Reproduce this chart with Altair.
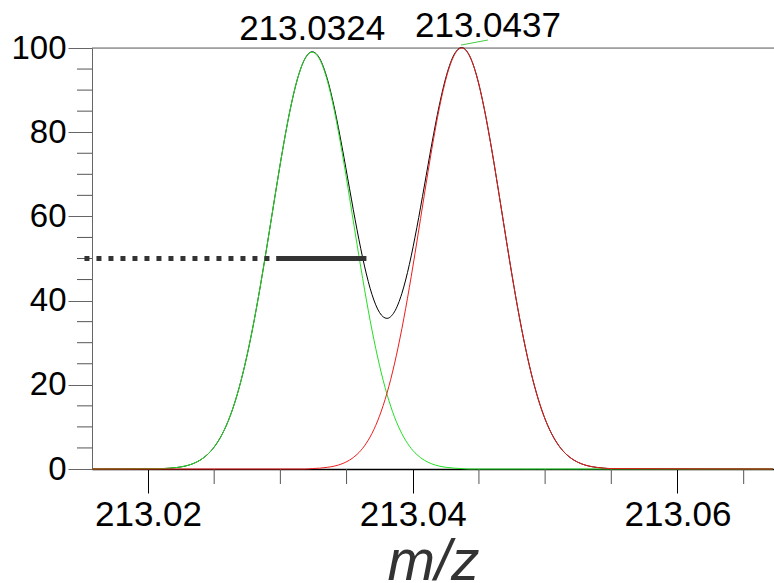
import altair as alt
import pandas as pd

# m/z grid
mz = [213.0158,
      213.0211, 213.021665, 213.02223, 213.022795, 213.02336, 213.023925, 213.02449,
      213.025055, 213.02562, 213.026185, 213.02675, 213.027315, 213.02788, 213.028445,
      213.02901, 213.029575, 213.03014, 213.030705, 213.03127, 213.031835, 213.0324,
      213.032965, 213.03353, 213.034095, 213.03466, 213.035225, 213.03579, 213.036355,
      213.03692, 213.037485, 213.03805, 213.038615, 213.03918, 213.039745, 213.04031,
      213.040875, 213.04144, 213.042005, 213.04257, 213.043135, 213.0437, 213.044265,
      213.04483, 213.045395, 213.04596, 213.046525, 213.04709, 213.047655, 213.04822,
      213.048785, 213.04935, 213.049915, 213.05048, 213.051045, 213.05161, 213.052175,
      213.05274, 213.053305, 213.05387, 213.054435, 213.055,
      213.0672]

green = [0,
         0.10, 0.20, 0.38, 0.69, 1.22, 2.08, 3.43, 5.45, 8.37, 12.41, 17.80, 24.66, 33.01,
         42.71, 53.38, 64.47, 75.23, 84.83, 92.43, 97.32, 99.0, 97.32, 92.43, 84.83, 75.23,
         64.47, 53.38, 42.71, 33.01, 24.66, 17.80, 12.41, 8.37, 5.45, 3.43, 2.08, 1.22, 0.69,
         0.38, 0.20, 0.10,
         0, 0, 0, 0, 0, 0, 0, 0, 0, 0, 0, 0, 0, 0, 0, 0, 0, 0, 0, 0,
         0]

red = [0,
       0, 0, 0, 0, 0, 0, 0, 0, 0, 0, 0, 0, 0, 0, 0, 0, 0, 0, 0, 0,
       0.10, 0.20, 0.39, 0.70, 1.24, 2.11, 3.46, 5.50, 8.45, 12.54, 17.98, 24.91, 33.35,
       43.14, 53.92, 65.12, 75.99, 85.69, 93.37, 98.30, 100.0, 98.30, 93.37, 85.69, 75.99,
       65.12, 53.92, 43.14, 33.35, 24.91, 17.98, 12.54, 8.45, 5.50, 3.46, 2.11, 1.24, 0.70,
       0.39, 0.20, 0.10,
       0]

total = [0,
         0.10, 0.20, 0.38, 0.69, 1.22, 2.08, 3.43, 5.45, 8.37, 12.41, 17.80, 24.66, 33.01,
         42.71, 53.38, 64.47, 75.23, 84.83, 92.43, 97.32,
         99.10, 97.52, 92.82, 85.53, 76.47, 66.58, 56.84, 48.21, 41.46, 37.20, 35.78,
         37.32, 41.72, 48.59, 57.35, 67.20, 77.21, 86.38, 93.75, 98.50, 100.10,
         98.30, 93.37, 85.69, 75.99, 65.12, 53.92, 43.14, 33.35, 24.91, 17.98, 12.54,
         8.45, 5.50, 3.46, 2.11, 1.24, 0.70, 0.39, 0.20, 0.10,
         0]

peak_labels = ["213.0324", "213.0437"]
label_x = [213.0324, 213.04568]
label_y = [101.9, 102.6]

leader_x = [213.04365]
leader_y = [100.7]
leader_x2 = [213.04568]
leader_y2 = [101.9]

# half-height marker lines
dotted_x = [213.0152]
dotted_x2 = [213.0298]
solid_x = [213.0297]
solid_x2 = [213.0365]
half_y = [50]

x_major = [213.02, 213.04, 213.06]
x_minor = [213.025, 213.03, 213.035, 213.045, 213.05, 213.055, 213.065]
y_major = [0, 20, 40, 60, 80, 100]
y_minor = [5, 10, 15, 25, 30, 35, 45, 50, 55, 65, 70, 75, 85, 90, 95]

FONT = "Liberation Sans"
W, H = 682, 421

xscale = alt.Scale(domain=[213.01577, 213.06729], nice=False, zero=False)
yscale = alt.Scale(domain=[0, 100], nice=False, zero=True)

df = pd.DataFrame({"mz": mz, "green": green, "red": red, "total": total})

xaxis = alt.Axis(values=x_major, format=".2f", tickSize=24, tickColor="#000",
                 tickWidth=1, domainColor="#000", domainWidth=1.5,
                 labelFont=FONT, labelFontSize=35, labelColor="#000",
                 labelPadding=4, grid=False, title="m/z", titleFont=FONT,
                 titleFontSize=57, titleFontStyle="italic", titleFontWeight="normal",
                 titleColor="#333", titlePadding=2, labelFlush=False)
yaxis = alt.Axis(values=y_major, tickSize=24, tickColor="#666", tickWidth=1,
                 domainColor="#666", domainWidth=1, labelFont=FONT, labelFontSize=33,
                 labelColor="#000", labelPadding=2, grid=False, title=None,
                 labelFlush=False)

base = alt.Chart(df)

black_line = base.mark_line(color="#000", strokeWidth=1, interpolate="monotone").encode(
    x=alt.X("mz:Q", scale=xscale, axis=xaxis),
    y=alt.Y("total:Q", scale=yscale, axis=yaxis),
)
green_line = base.mark_line(color="#22e022", strokeWidth=1, interpolate="monotone").encode(
    x=alt.X("mz:Q", scale=xscale), y=alt.Y("green:Q", scale=yscale))
red_line = base.mark_line(color="#ee1c1c", strokeWidth=1, interpolate="monotone").encode(
    x=alt.X("mz:Q", scale=xscale), y=alt.Y("red:Q", scale=yscale))

# top frame line at 100
top_rule = alt.Chart(pd.DataFrame({"v": [100]})).mark_rule(color="#666", strokeWidth=1).encode(
    y=alt.Y("v:Q", scale=yscale), x=alt.value(0), x2=alt.value(W))

xminor = alt.Chart(pd.DataFrame({"v": x_minor})).mark_rule(color="#555", strokeWidth=1).encode(
    x=alt.X("v:Q", scale=xscale), y=alt.value(H), y2=alt.value(H + 15))
yminor = alt.Chart(pd.DataFrame({"v": y_minor})).mark_rule(color="#555", strokeWidth=1).encode(
    y=alt.Y("v:Q", scale=yscale), x=alt.value(-15), x2=alt.value(0))

dotted = alt.Chart(pd.DataFrame({"x": dotted_x, "x2": dotted_x2, "y": half_y})).mark_rule(
    color="#333", strokeWidth=5, strokeDash=[5, 7]).encode(
    x=alt.X("x:Q", scale=xscale), x2="x2:Q", y=alt.Y("y:Q", scale=yscale))
solid = alt.Chart(pd.DataFrame({"x": solid_x, "x2": solid_x2, "y": half_y})).mark_rule(
    color="#333", strokeWidth=5).encode(
    x=alt.X("x:Q", scale=xscale), x2="x2:Q", y=alt.Y("y:Q", scale=yscale))

leader = alt.Chart(pd.DataFrame({"x": leader_x, "y": leader_y, "x2": leader_x2, "y2": leader_y2})).mark_rule(
    color="#44cc44", strokeWidth=1).encode(
    x=alt.X("x:Q", scale=xscale), y=alt.Y("y:Q", scale=yscale), x2="x2:Q", y2="y2:Q")

labels = alt.Chart(pd.DataFrame({"t": peak_labels, "x": label_x, "y": label_y})).mark_text(
    font=FONT, fontSize=35, color="#000", align="center", baseline="alphabetic").encode(
    x=alt.X("x:Q", scale=xscale), y=alt.Y("y:Q", scale=yscale), text="t:N")

chart = alt.layer(top_rule, xminor, yminor, black_line, green_line, red_line,
                  dotted, solid, leader, labels).properties(
    width=W, height=H,
    padding={"left": 92, "top": 48, "right": 0, "bottom": 114},
    autosize=alt.AutoSizeParams(type="none"),
).configure_view(stroke=None).configure(background="white")

chart.save("out.html", embed_options={"renderer": "svg", "actions": False})
